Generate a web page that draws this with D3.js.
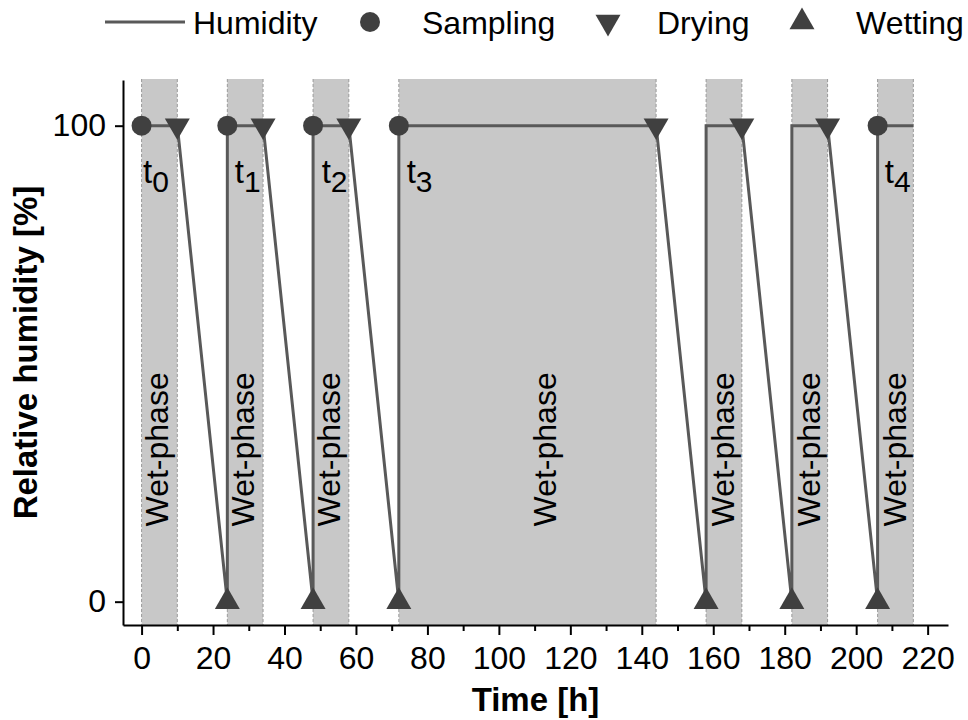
<!DOCTYPE html>
<html>
<head>
<meta charset="utf-8">
<script src="https://cdn.jsdelivr.net/npm/d3@7"></script>
<style>
  html, body { margin: 0; padding: 0; background: #fff; }
  svg { display: block; font-family: "Liberation Sans", Arial, sans-serif; }
</style>
</head>
<body>
<svg id="chart" width="968" height="720"></svg>
<script>
// ---------- data ----------
const humidityTime  = [0, 10, 24, 24, 34, 48, 48, 58, 72, 72, 144, 158, 158, 168, 182, 182, 192, 206, 206, 216];
const humidityValue = [100, 100, 0, 100, 100, 0, 100, 100, 0, 100, 100, 0, 100, 100, 0, 100, 100, 0, 100, 100];
const samplingTime  = [0, 24, 48, 72, 206];
const samplingValue = [100, 100, 100, 100, 100];
const samplingLabels = ["0", "1", "2", "3", "4"];
const samplingLabelTime = [0.4, 26.1, 50.4, 74.2, 208];
const dryingTime   = [10, 34, 58, 144, 168, 192];
const dryingValue  = [100, 100, 100, 100, 100, 100];
const wettingTime  = [24, 48, 72, 158, 182, 206];
const wettingValue = [0, 0, 0, 0, 0, 0];
const wetStart = [0, 24, 48, 72, 158, 182, 206];
const wetEnd   = [10, 34, 58, 144, 168, 192, 216];
const wetLabelTime = [5, 29, 53, 113.5, 163.5, 187.5, 211.5];
const wetLabelValue = 32;
const xMajorTicks = [0, 20, 40, 60, 80, 100, 120, 140, 160, 180, 200, 220];
const xMinorTicks = [10, 30, 50, 70, 90, 110, 130, 150, 170, 190, 210];
const yTicks = [0, 100];
const legendLabels = ["Humidity", "Sampling", "Drying", "Wetting"];

(function () {
// ---------- setup ----------
const svg = d3.select("#chart");
const pL = 123, pR = 948, pT = 80, pB = 625;
const x = d3.scaleLinear().domain([-5.2, 225.7]).range([pL, pR]);
const y = d3.scaleLinear().domain([-4.9, 109.6]).range([pB, pT]);

const lineColor = "#595959";
const markColor = "#404040";
const bandColor = "#c8c8c8";

// bands
const bands = wetStart.map((s, i) => ({ s, e: wetEnd[i], lx: wetLabelTime[i] }));
const gB = svg.append("g");
gB.selectAll("rect").data(bands).join("rect")
  .attr("x", d => x(d.s)).attr("width", d => x(d.e) - x(d.s))
  .attr("y", pT - 1).attr("height", pB - pT + 1)
  .attr("fill", bandColor);
const edges = [];
bands.forEach(d => { edges.push(d.s); edges.push(d.e); });
gB.selectAll("line").data(edges).join("line")
  .attr("x1", d => x(d)).attr("x2", d => x(d))
  .attr("y1", pT - 1).attr("y2", pB)
  .attr("stroke", "#9a9a9a").attr("stroke-width", 1)
  .attr("stroke-dasharray", "3,2");

// wet-phase labels
gB.selectAll("text").data(bands).join("text")
  .attr("transform", d => `translate(${x(d.lx)},${y(wetLabelValue)}) rotate(-90)`)
  .attr("text-anchor", "middle").attr("dy", "0.27em")
  .attr("font-size", 32).attr("fill", "#000")
  .text("Wet-phase");

// humidity line
const pts = humidityTime.map((t, i) => [t, humidityValue[i]]);
svg.append("path").datum(pts)
  .attr("d", d3.line().x(d => x(d[0])).y(d => y(d[1])))
  .attr("fill", "none").attr("stroke", lineColor).attr("stroke-width", 3)
  .attr("stroke-linejoin", "miter");

// markers
const triUp = d3.symbol().type(d3.symbolTriangle).size(270)();
svg.append("g").selectAll("path").data(dryingTime.map((t, i) => [t, dryingValue[i]])).join("path")
  .attr("d", triUp)
  .attr("transform", d => `translate(${x(d[0])},${y(d[1])}) rotate(180)`)
  .attr("fill", markColor);
svg.append("g").selectAll("path").data(wettingTime.map((t, i) => [t, wettingValue[i]])).join("path")
  .attr("d", triUp)
  .attr("transform", d => `translate(${x(d[0])},${y(d[1])})`)
  .attr("fill", markColor);
svg.append("g").selectAll("circle").data(samplingTime.map((t, i) => [t, samplingValue[i]])).join("circle")
  .attr("cx", d => x(d[0])).attr("cy", d => y(d[1])).attr("r", 10)
  .attr("fill", markColor);

// t labels
const tl = svg.append("g").selectAll("text").data(samplingLabels).join("text")
  .attr("x", (d, i) => x(samplingLabelTime[i]))
  .attr("y", y(samplingValue[0]) + 57)
  .attr("font-size", 33).attr("fill", "#000");
tl.append("tspan").text("t");
tl.append("tspan").attr("dy", 9).attr("font-size", 30).text(d => d);

// axes
svg.append("g").attr("transform", `translate(0,${pB})`)
  .call(d3.axisBottom(x).tickValues(xMajorTicks).tickSize(10).tickPadding(11).tickSizeOuter(0));
svg.append("g").attr("transform", `translate(0,${pB})`)
  .call(d3.axisBottom(x).tickValues(xMinorTicks).tickSize(6).tickFormat("").tickSizeOuter(0))
  .select(".domain").remove();
svg.append("g").attr("transform", `translate(${pL},0)`)
  .call(d3.axisLeft(y).tickValues(yTicks).tickSize(8).tickPadding(9).tickSizeOuter(0));
svg.selectAll(".domain").attr("stroke", "#000").attr("stroke-width", 2);
svg.selectAll(".tick line").attr("stroke", "#000").attr("stroke-width", 2);
svg.selectAll(".tick text").attr("font-size", 32).attr("font-family", "Liberation Sans, Arial, sans-serif").attr("fill", "#000");

// axis titles
svg.append("text").attr("x", (pL + pR) / 2).attr("y", 711)
  .attr("text-anchor", "middle").attr("font-size", 33).attr("font-weight", "bold")
  .text("Time [h]");
svg.append("text")
  .attr("transform", `translate(37,${(pT + pB) / 2}) rotate(-90)`)
  .attr("text-anchor", "middle").attr("font-size", 33).attr("font-weight", "bold")
  .text("Relative humidity [%]");

// legend
const lg = svg.append("g");
lg.append("line").attr("x1", 105).attr("x2", 185).attr("y1", 22).attr("y2", 22)
  .attr("stroke", lineColor).attr("stroke-width", 3);
lg.append("circle").attr("cx", 370).attr("cy", 22).attr("r", 10).attr("fill", markColor);
lg.append("path").attr("d", triUp).attr("transform", "translate(608,22) rotate(180)").attr("fill", markColor);
lg.append("path").attr("d", triUp).attr("transform", "translate(802,22)").attr("fill", markColor);
const legX = [193, 422, 657, 856];
lg.selectAll("text").data(legendLabels).join("text")
  .attr("x", (d, i) => legX[i]).attr("y", 34)
  .attr("font-size", 32).attr("fill", "#000")
  .text(d => d);
})();
</script>
</body>
</html>
